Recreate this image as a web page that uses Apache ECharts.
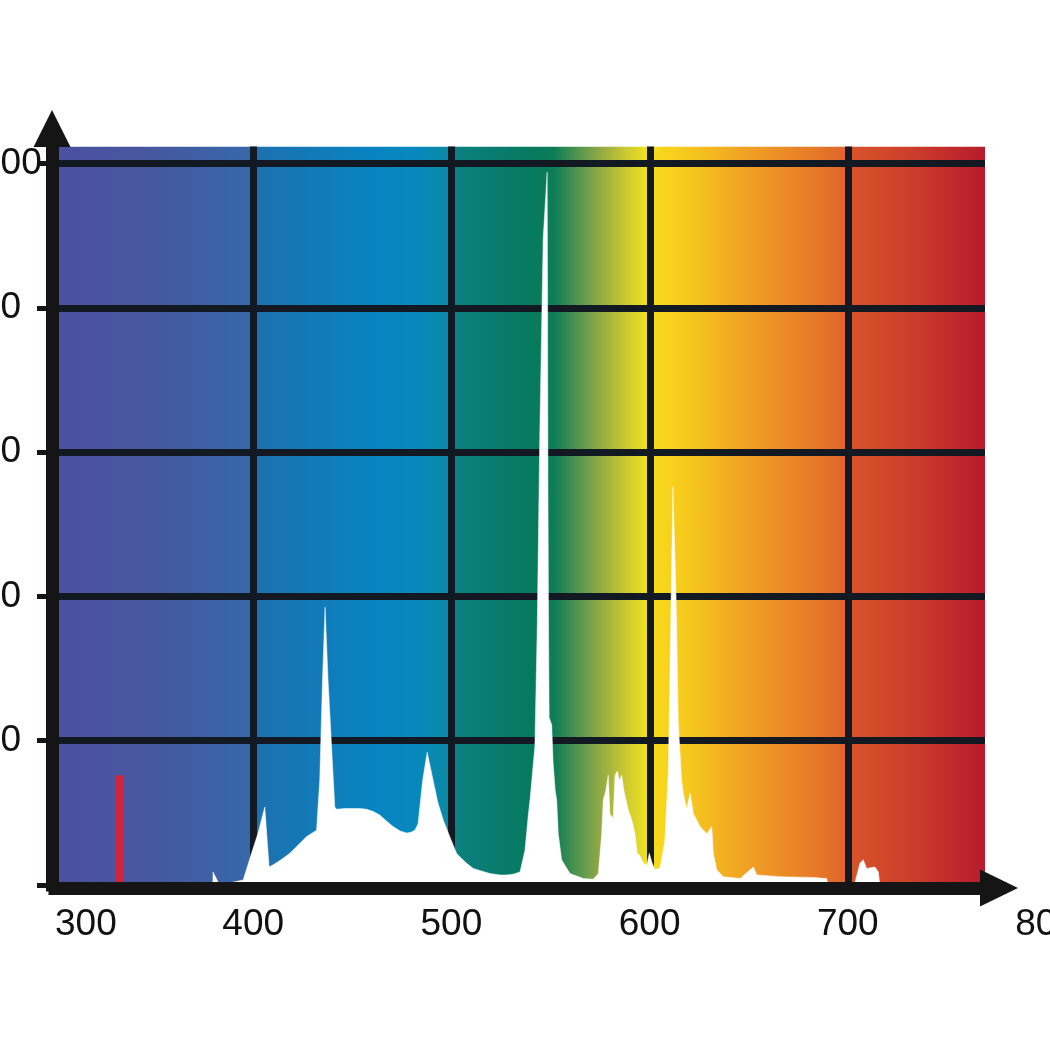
<!DOCTYPE html>
<html>
<head>
<meta charset="utf-8">
<script src="https://cdn.jsdelivr.net/npm/echarts@6/dist/echarts.min.js"></script>
<style>
html,body{margin:0;padding:0;background:#fff;}
#chart{width:1050px;height:1050px;}
</style>
</head>
<body>
<div id="chart"></div>
<script>
// ---- data ----
const X_TICKS = [300, 400, 500, 600, 700, 800];
const Y_TICKS = [0, 20, 40, 60, 80, 100];
const X_GRID = [400, 500, 600, 700];
const Y_GRID = [20, 40, 60, 80, 100];
const X_MIN = 300, X_END = 769, Y_TOP = 102.36;

const WAVELENGTH = [
  300, 378, 379.6, 379.7, 383, 394.9, 399.1, 402.4, 405.8, 407.0,
  408.0, 410.0, 414, 418.4, 422.5, 426.8, 431.9, 433.5, 434.9, 436.2,
  437.7, 439.5, 441.1, 442.0, 446, 450.4, 454, 457.1, 460.5, 463.8,
  467, 470.5, 474, 477.3, 479.5, 481.5, 483.1, 485.4, 487.7, 490.7,
  493, 495.8, 499.1, 502.5, 504.2, 507.6, 510.9, 514.3, 519.3, 524.4,
  527.7, 531, 534.5, 537.0, 538.6, 539.6, 542, 543.2, 544.5, 546.2,
  548.2, 548.4, 548.6, 548.9, 549.2, 550.5, 551.2, 552.3, 553.0, 553.8,
  555.5, 559.7, 566.4, 571.4, 574.0, 575.7, 576.5, 577.8, 579.0, 579.9,
  581.5, 582.4, 583.6, 584.6, 585.8, 586.9, 589.1, 590.8, 592.5, 593.6,
  595.0, 596.7, 598.4, 599.7, 601.1, 602.6, 605.1, 607.5, 609.3, 610.5,
  611.6, 613.2, 614.3, 616.0, 616.9, 618.5, 620.3, 621.9, 625.3, 628.7,
  631.2, 632.0, 633.7, 637.0, 645.5, 650.5, 652.2, 653.9, 665.6, 682.4,
  689.2, 689.8, 703.4, 705.9, 707.6, 709.3, 713.5, 715.2, 716, 769
];
const INTENSITY = [
  0, 0, 0, 1.8, 0, 0.7, 4.4, 7.2, 10.8, 6.2,
  2.5, 2.8, 3.5, 4.4, 5.5, 6.7, 7.6, 14.5, 28.4, 38.5,
  28.4, 19.1, 10.8, 10.5, 10.6, 10.6, 10.6, 10.5, 10.2, 9.7,
  8.9, 8.1, 7.5, 7.2, 7.3, 7.6, 8.5, 14.5, 18.4, 14.5,
  11.5, 9.0, 6.7, 4.4, 3.9, 3.0, 2.3, 2.0, 1.6, 1.4,
  1.4, 1.5, 1.8, 4.8, 9.5, 12, 19.2, 36, 62.8, 89.7,
  98.8, 83, 55, 36, 23.2, 22.2, 17, 13, 11.8, 7.1,
  3.5, 1.6, 0.9, 0.8, 1.6, 7.1, 11.8, 13.1, 15.2, 9.8,
  9.3, 15.2, 15.8, 14.5, 15.2, 13.1, 10.4, 9.1, 7.1, 4.4,
  4.1, 3.1, 2.7, 4.4, 3.1, 2.1, 2.4, 6, 15.8, 36,
  55.2, 40, 22.6, 14.5, 12.7, 10.5, 12.7, 9.9, 8.1, 7.1,
  8.1, 4.4, 2.1, 1.15, 0.9, 2.1, 2.5, 1.4, 1.15, 1.05,
  0.9, 0, 0.3, 3, 3.5, 2.3, 2.5, 1.8, 0, 0
];
// UV line (red marker)
const UV_LINE_NM = 332.5;
const UV_LINE_VALUE = 15.2;

// ---- styles ----
const SPECTRUM_STOPS = [
  [300, '#4b509f'], [350, '#46589f'], [397, '#3767a9'], [400.5, '#1e70af'],
  [430, '#137ab8'], [460, '#0784c2'], [482, '#0788bd'], [499.5, '#0b8aa4'],
  [500.5, '#0b8282'], [520, '#097c70'], [540, '#067a5e'], [552, '#0e7d56'],
  [562, '#4a9250'], [575, '#92aa44'], [588, '#cdc932'], [599.5, '#f2e51e'],
  [600.5, '#f9dc1b'], [620, '#f6c71e'], [640, '#f2ac22'], [660, '#ee9426'],
  [685, '#e67728'], [699.5, '#df632a'], [700.5, '#d7552a'], [730, '#cc402b'],
  [769, '#b81b2d']
];
const colorStops = SPECTRUM_STOPS.map(s => ({ offset: (s[0] - X_MIN) / (X_END - X_MIN), color: s[1] }));

const spectrum = WAVELENGTH.map((w, i) => [w, INTENSITY[i]]);
const gridLines = []
  .concat(X_GRID.map(x => ({ coords: [[x, 0], [x, Y_TOP]] })))
  .concat(Y_GRID.map(y => ({ coords: [[X_MIN, y], [X_END, y]] })));

const FONT = "'Liberation Sans', Arial, sans-serif";
const chart = echarts.init(document.getElementById('chart'), null, { renderer: 'canvas' });
chart.setOption({
  animation: false,
  backgroundColor: '#ffffff',
  grid: [
    { left: 55, right: 65, top: 146.5, bottom: 165, containLabel: false, outerBoundsMode: 'none' },
    { left: 55, right: 4, top: 146.5, bottom: 165, containLabel: false, outerBoundsMode: 'none' }
  ],
  xAxis: [
    {
      type: 'value', gridIndex: 0, min: X_MIN, max: X_END, z: 10,
      axisLine: { show: true, onZero: false, symbol: ['none', 'triangle'], symbolSize: [37, 38], symbolOffset: [0, 14],
        lineStyle: { color: '#151515', width: 13, cap: 'square' } },
      axisTick: { show: false }, axisLabel: { show: false }, splitLine: { show: false },
      offset: 3
    },
    {
      type: 'value', gridIndex: 1, min: 300, max: 800, interval: 100,
      axisLine: { show: false }, axisTick: { show: false }, splitLine: { show: false },
      axisLabel: { show: true, fontSize: 37, fontFamily: FONT, color: '#111', margin: 21,
        alignMinLabel: 'left', customValues: X_TICKS }
    }
  ],
  yAxis: [
    {
      type: 'value', gridIndex: 0, min: 0, max: Y_TOP, interval: 20, z: 10, offset: 3,
      axisLine: { show: true, onZero: false, symbol: ['none', 'triangle'], symbolSize: [37, 37], symbolOffset: [0, 18],
        lineStyle: { color: '#151515', width: 13, cap: 'square' } },
      axisTick: { show: true, length: 15, lineStyle: { color: '#151515', width: 5 }, customValues: Y_TICKS },
      axisLabel: { show: true, fontSize: 37, fontFamily: FONT, color: '#111', margin: 72, align: 'left',
        customValues: Y_TICKS,
        formatter: v => (Y_TICKS.indexOf(v) >= 0 ? String(v) : '') },
      splitLine: { show: false }
    },
    {
      type: 'value', gridIndex: 1, min: 0, max: Y_TOP, show: false
    }
  ],
  series: [
    {
      name: 'background', type: 'line', xAxisIndex: 0, yAxisIndex: 0, z: 1, silent: true,
      data: [[X_MIN, Y_TOP], [X_END, Y_TOP]], symbol: 'none',
      lineStyle: { width: 0 },
      areaStyle: { opacity: 1, color: { type: 'linear', x: 0, y: 0, x2: 1, y2: 0, colorStops: colorStops } }
    },
    {
      name: 'grid', type: 'lines', coordinateSystem: 'cartesian2d', xAxisIndex: 0, yAxisIndex: 0, z: 2, silent: true,
      data: gridLines, lineStyle: { color: '#121923', width: 7, opacity: 1, cap: 'butt' }
    },
    {
      name: 'spectrum', type: 'line', xAxisIndex: 0, yAxisIndex: 0, z: 3, silent: true,
      data: spectrum, symbol: 'none',
      lineStyle: { width: 0.5, color: '#ffffff' },
      areaStyle: { opacity: 1, color: '#ffffff' }
    },
    {
      name: 'uv', type: 'line', xAxisIndex: 0, yAxisIndex: 0, z: 3, silent: true,
      data: [[UV_LINE_NM, 0], [UV_LINE_NM, UV_LINE_VALUE]], symbol: 'none',
      lineStyle: { width: 8, color: '#d0243c', cap: 'butt' }
    }
  ]
});
</script>
</body>
</html>
